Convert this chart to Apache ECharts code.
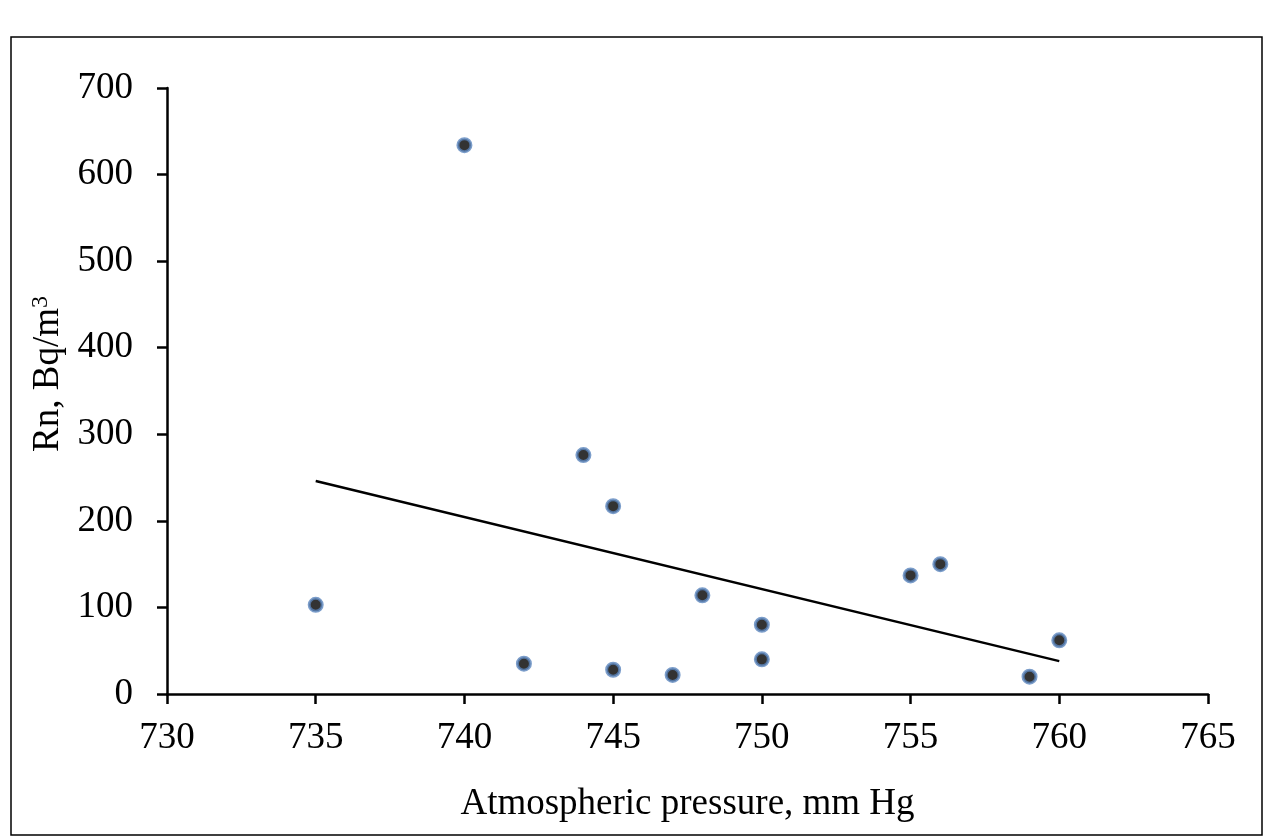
<!DOCTYPE html>
<html>
<head>
<meta charset="utf-8">
<script src="https://cdn.jsdelivr.net/npm/echarts@6/dist/echarts.min.js"></script>
<style>
    html, body { margin: 0; padding: 0; background: #fff; }
    #main { width: 1272px; height: 839px; }
</style>
</head>
<body>
<div id="main"></div>
<script>
    // measured points: pressure (mm Hg) vs radon (Bq/m3)
    var pressure = [735, 740, 742, 744, 745, 745, 747, 748, 750, 750, 755, 756, 759, 760];
    var radon = [103, 634, 35, 276, 217, 28, 22, 114, 80, 40, 137, 150, 20, 62];

    // linear trendline end points
    var trendX = [735, 760];
    var trendY = [246, 38];

    var font = '"Liberation Serif", "Times New Roman", serif';

    var points = pressure.map(function (p, i) { return [p, radon[i]]; });
    var trend = trendX.map(function (p, i) { return [p, trendY[i]]; });

    var myChart = echarts.init(document.getElementById('main'));
    var option = {
        animation: false,
        backgroundColor: '#fff',
        grid: {
            left: 167,
            right: 64,
            top: 88,
            bottom: 145
        },
        graphic: [
            {
                type: 'rect',
                shape: { x: 11, y: 37, width: 1251, height: 798 },
                style: { fill: 'none', stroke: '#000', lineWidth: 1.5 },
                silent: true
            }
        ],
        xAxis: {
            type: 'value',
            min: 730,
            max: 765,
            interval: 5,
            name: 'Atmospheric pressure, mm Hg',
            nameLocation: 'middle',
            nameGap: 92,
            nameTextStyle: { fontFamily: font, fontSize: 37, color: '#000' },
            axisLine: { onZero: false, lineStyle: { color: '#000', width: 2.5 } },
            axisTick: { show: true, inside: false, length: 10, lineStyle: { color: '#000', width: 2.5 } },
            axisLabel: { fontFamily: font, fontSize: 37, color: '#000', margin: 26 },
            splitLine: { show: false }
        },
        yAxis: {
            type: 'value',
            min: 0,
            max: 700,
            interval: 100,
            name: 'Rn, Bq/m{sup|3}',
            nameLocation: 'middle',
            nameGap: 96,
            nameRotate: 90,
            nameTextStyle: {
                fontFamily: font, fontSize: 37, color: '#000',
                padding: [0, 0, 0, 34],
                rich: {
                    sup: { fontFamily: font, fontSize: 24, color: '#000', verticalAlign: 'top', padding: [0, 0, 14, 0] }
                }
            },
            axisLine: { show: true, lineStyle: { color: '#000', width: 2.5 } },
            axisTick: { show: true, inside: false, length: 10, lineStyle: { color: '#000', width: 2.5 } },
            axisLabel: { fontFamily: font, fontSize: 37, color: '#000', margin: 34 },
            splitLine: { show: false }
        },
        series: [
            {
                name: 'trend',
                type: 'line',
                data: trend,
                symbol: 'none',
                lineStyle: { color: '#000', width: 2.5 },
                z: 2
            },
            {
                name: 'Rn',
                type: 'scatter',
                data: points,
                symbol: 'circle',
                symbolSize: 13,
                itemStyle: { color: '#000', borderColor: '#5a84bd', borderWidth: 3 },
                z: 3
            }
        ]
    };
    myChart.setOption(option);
</script>
</body>
</html>
